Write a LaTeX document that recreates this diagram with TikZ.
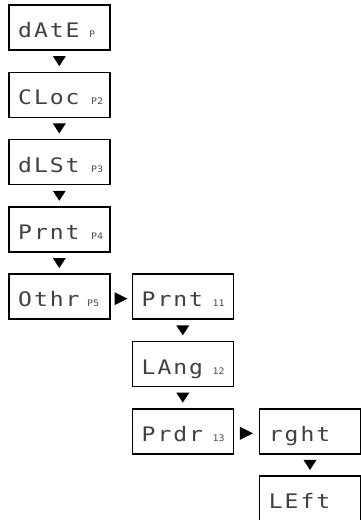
\documentclass[tikz,border=0pt]{standalone}
\usepackage{fontspec}
\usetikzlibrary{calc}
\newfontfamily\segfont[FakeStretch=1.15,LetterSpace=10]{DejaVu Sans Mono}
\newfontfamily\sfxfont[FakeStretch=1.1]{DejaVu Sans Mono}
\begin{document}
\begin{tikzpicture}[x=1pt,y=-1pt,
  box/.style={draw, line width=1.6pt, minimum width=101pt, minimum height=45pt, inner sep=0pt},
  main/.style={font=\segfont\fontsize{20}{20}\selectfont, text=black!75, inner sep=0pt, anchor=base west},
  sfx/.style={font=\sfxfont\fontsize{9}{9}\selectfont, text=black!70, inner sep=0pt, anchor=base west},
  tri/.style={fill=black}]
\useasboundingbox (0,0) rectangle (361,520);
% boxes
\node[box] (b1) at (59.3,27.5) {};
\node[box] (b2) at (59.3,94.8) {};
\node[box] (b3) at (59.3,162.1) {};
\node[box] (b4) at (59.3,229.4) {};
\node[box] (b5) at (59.3,296.7) {};
\node[box] (b6) at (182.8,296.7) {};
\node[box] (b7) at (182.8,364.0) {};
\node[box] (b8) at (182.8,431.3) {};
\node[box] (b9) at (310,431.3) {};
\node[box] (b10) at (310,498.6) {};
% main texts
\node[main] (t1) at ($(b1.west)+(10,10)$) {dAtE};
\node[main] (t2) at ($(b2.west)+(10,10)$) {CLoc};
\node[main] (t3) at ($(b3.west)+(10,10)$) {dLSt};
\node[main] (t4) at ($(b4.west)+(10,10)$) {Prnt};
\node[main] (t5) at ($(b5.west)+(10,10)$) {Othr};
\node[main] (t6) at ($(b6.west)+(10,10)$) {Prnt};
\node[main] (t7) at ($(b7.west)+(10,10)$) {LAng};
\node[main] (t8) at ($(b8.west)+(10,10)$) {Prdr};
\node[main] (t9) at ($(b9.west)+(10,10)$) {rght};
\node[main] (t10) at ($(b10.west)+(10,10)$) {LEft};
% suffixes
\node[sfx] (s1) at ($(b1.west)+(81,10)$) {P};
\node[sfx] (s2) at ($(b2.west)+(83,10)$) {P2};
\node[sfx] (s3) at ($(b3.west)+(83,10)$) {P3};
\node[sfx] (s4) at ($(b4.west)+(83,10)$) {P4};
\node[sfx] (s5) at ($(b5.west)+(79,10)$) {P5};
\node[sfx] (s6) at ($(b6.west)+(81,10)$) {11};
\node[sfx] (s7) at ($(b7.west)+(81,10)$) {12};
\node[sfx] (s8) at ($(b8.west)+(81,10)$) {13};
% down arrows
\foreach \a/\b in {b1/b2,b2/b3,b3/b4,b4/b5,b6/b7,b7/b8,b9/b10}{
  \coordinate (m) at ($(\a.south)!0.5!(\b.north)$);
  \fill[tri] ($(m)+(-6.5,-5)$) -- ($(m)+(6.5,-5)$) -- ($(m)+(0,5)$) -- cycle;
}
% right arrows
\foreach \a/\b in {b5/b6,b8/b9}{
  \coordinate (m) at ($(\a.east)!0.5!(\b.west)+(0,2)$);
  \fill[tri] ($(m)+(-6.5,-6.5)$) -- ($(m)+(-6.5,6.5)$) -- ($(m)+(6.5,0)$) -- cycle;
}
\end{tikzpicture}
\end{document}
